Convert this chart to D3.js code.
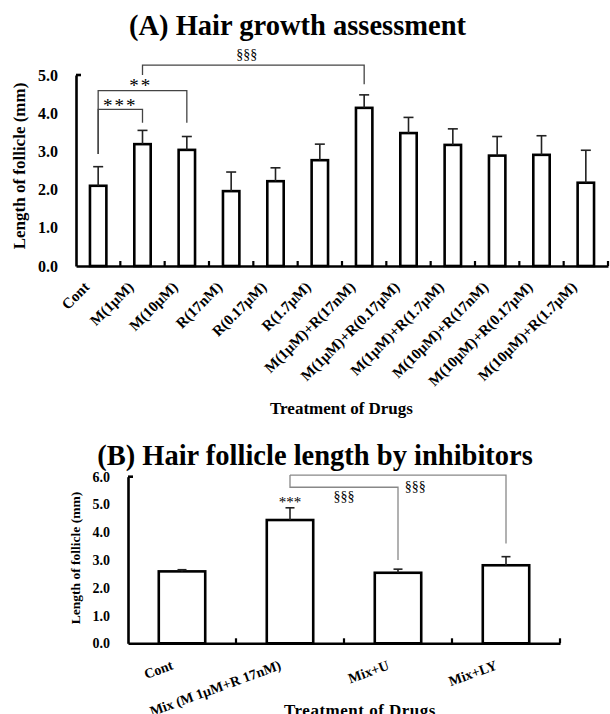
<!DOCTYPE html>
<html><head><meta charset="utf-8">
<script src="https://cdn.jsdelivr.net/npm/d3@7"></script>
<style>
body{margin:0;background:#fff}
svg{display:block}
text{font-family:"Liberation Serif","Times New Roman",serif;font-weight:bold;fill:#000}
</style>
</head><body><svg id="c" width="610" height="714"></svg>
<script>
// ---------- Data: panel A ----------
const categoriesA = ["Cont","M(1μM)","M(10μM)","R(17nM)","R(0.17μM)","R(1.7μM)","M(1μM)+R(17nM)","M(1μM)+R(0.17μM)","M(1μM)+R(1.7μM)","M(10μM)+R(17nM)","M(10μM)+R(0.17μM)","M(10μM)+R(1.7μM)"];
const meansA  = [2.10,3.19,3.04,1.96,2.22,2.77,4.14,3.48,3.17,2.89,2.91,2.18];
const errorsA = [0.50,0.36,0.35,0.50,0.35,0.42,0.34,0.41,0.42,0.50,0.50,0.85];
const yTicksA = [0,1,2,3,4,5];
// significance brackets (category indices, heights in mm)
const sigFromA  = [0,0,1];
const sigToA    = [1,2,6];
const sigTopA   = [4.10,4.59,5.26];
const sigLeftA  = [2.93,2.93,5.00];
const sigRightA = [3.75,3.75,4.76];
const sigTextA  = ["***","**","§§§"];
const sigTextYA = [4.02,4.56,5.41];

// ---------- Data: panel B ----------
const categoriesB = ["Cont","Mix (M 1μM+R 17nM)","Mix+U","Mix+LY"];
const meansB  = [2.59,4.44,2.54,2.81];
const errorsB = [0.06,0.44,0.13,0.31];
const yTicksB = [0,1,2,3,4,5,6];
const sigFromB  = [1,1];
const sigToB    = [2,3];
const sigTopB   = [5.62,6.06];
const sigLeftB  = [6.06,6.06];
const sigRightB = [3.00,3.59];
const sigTextB  = ["§§§","§§§"];
const sigTextYB = [5.12,5.48];
const starCatB = 1, starTextB = "***", starYB = 4.91;

const svg = d3.select("#c");

function panel(o){
  const g = svg.append("g");
  const x = d3.scaleBand().domain(o.cats).range(o.xr).paddingInner(o.pad).paddingOuter(o.pad/2);
  const y = d3.scaleLinear().domain([0, d3.max(o.ticks)]).range(o.yr);
  const cx = i => x(o.cats[i]) + x.bandwidth()/2;

  // bars
  g.selectAll("rect.bar").data(o.means).join("rect")
    .attr("x",(d,i)=>x(o.cats[i])).attr("width",x.bandwidth())
    .attr("y",d=>y(d)).attr("height",d=>y(0)-y(d))
    .attr("fill","#fff").attr("stroke","#000").attr("stroke-width",2.6);

  // error bars (upper only)
  const eg = g.append("g").attr("stroke","#222").attr("stroke-width",1.6);
  o.means.forEach((m,i)=>{
    eg.append("line").attr("x1",cx(i)).attr("x2",cx(i)).attr("y1",y(m)).attr("y2",y(m+o.errs[i]));
    eg.append("line").attr("x1",cx(i)-o.cap).attr("x2",cx(i)+o.cap).attr("y1",y(m+o.errs[i])).attr("y2",y(m+o.errs[i]));
  });

  // y axis
  const ya = g.append("g").attr("transform",`translate(${o.xr[0]},0)`)
    .call(d3.axisLeft(y).tickValues(o.ticks).tickSize(0).tickPadding(o.tickPad).tickFormat(d3.format(".1f")));
  ya.attr("font-family",null);
  ya.select(".domain").attr("stroke","#000").attr("stroke-width",2.6);
  ya.selectAll("text").style("font-size",o.tickFont+"px").style("font-family",'"Liberation Serif",serif').style("font-weight","bold");
  g.append("line").attr("x1",o.xr[0]).attr("x2",o.xr[0]+5).attr("y1",y(d3.max(o.ticks))).attr("y2",y(d3.max(o.ticks)))
    .attr("stroke","#000").attr("stroke-width",2.6);

  // x axis
  const xa = g.append("g").attr("transform",`translate(0,${y(0)})`)
    .call(d3.axisBottom(x).tickSize(0).tickFormat(""));
  xa.select(".domain").attr("stroke","#000").attr("stroke-width",2.6);
  const bounds = o.cats.slice(1).map(c=>x(c)-x.step()*o.pad/2).concat([o.xr[1]]);
  g.selectAll("line.bt").data(bounds).join("line")
    .attr("x1",d=>d).attr("x2",d=>d).attr("y1",y(0)).attr("y2",y(0)-5)
    .attr("stroke","#000").attr("stroke-width",2.2);

  // x labels
  g.selectAll("text.xl").data(o.cats).join("text")
    .attr("transform",(d,i)=>`translate(${cx(i)+o.lab.dx},${o.lab.y}) rotate(${o.lab.rot})`)
    .attr("text-anchor","end").style("font-size",o.lab.size+"px").text(d=>d);

  // axis titles
  g.append("text").attr("transform",`translate(${o.yt.x},${o.yt.y}) rotate(-90)`)
    .attr("text-anchor","middle").style("font-size",o.yt.size+"px").text("Length of follicle (mm)");
  g.append("text").attr("x",o.xt.x).attr("y",o.xt.y).attr("text-anchor","middle")
    .style("font-size",o.xt.size+"px").style("letter-spacing",o.xt.ls+"px").text("Treatment of Drugs");
  g.append("text").attr("x",o.title.x).attr("y",o.title.y).attr("text-anchor","middle")
    .style("font-size",o.title.size+"px").text(o.title.text);

  // significance brackets
  const sg = g.append("g").attr("fill","none").attr("stroke",o.sigColor).attr("stroke-width",1.3);
  o.sig.from.forEach((f,k)=>{
    const x1 = cx(f), x2 = cx(o.sig.to[k]);
    sg.append("path").attr("d",
      `M${x1},${y(o.sig.left[k])}V${y(o.sig.top[k])}H${x2}V${y(o.sig.right[k])}`);
    const t = o.sig.t[k];
    g.append("text").attr("x",x1+(x2-x1)*t).attr("y",y(o.sig.ty[k])).attr("text-anchor","middle")
      .style("font-weight","normal").style("font-size",(o.sig.text[k][0]==="*"?o.starSize:o.secSize)+"px")
      .style("letter-spacing",(o.sig.text[k][0]==="*"?o.starLs:0)+"px")
      .text(o.sig.text[k]);
  });
  return {x,y,cx,g};
}

panel({
  cats:categoriesA, means:meansA, errs:errorsA, ticks:yTicksA,
  xr:[76,608], yr:[266,75], pad:0.63, cap:5, tickPad:18, tickFont:16,
  lab:{dx:-8,y:288,rot:-45,size:15},
  yt:{x:25,y:166,size:17}, xt:{x:341.5,y:414,size:17,ls:0},
  title:{x:297.5,y:35,size:28.5,text:"(A) Hair growth assessment"},
  sigColor:"#444", starSize:19, starLs:2, secSize:14,
  sig:{from:sigFromA,to:sigToA,top:sigTopA,left:sigLeftA,right:sigRightA,text:sigTextA,ty:sigTextYA,t:[0.5,0.48,0.47]}
});

const pB = panel({
  cats:categoriesB, means:meansB, errs:errorsB, ticks:yTicksB,
  xr:[128,560], yr:[643.3,476.7], pad:0.57, cap:4.5, tickPad:18, tickFont:14,
  lab:{dx:-8,y:669,rot:-20,size:14},
  yt:{x:80,y:558,size:13.5}, xt:{x:360,y:716,size:17,ls:0.5},
  title:{x:315,y:465,size:28.5,text:"(B) Hair follicle length by inhibitors"},
  sigColor:"#888", starSize:15, starLs:0, secSize:14,
  sig:{from:sigFromB,to:sigToB,top:sigTopB,left:sigLeftB,right:sigRightB,text:sigTextB,ty:sigTextYB,t:[0.5,0.58]}
});
pB.g.append("text").attr("x",pB.cx(starCatB)).attr("y",pB.y(starYB)).attr("text-anchor","middle")
  .style("font-weight","normal").style("font-size","15px").text(starTextB);
</script>
</body></html>
